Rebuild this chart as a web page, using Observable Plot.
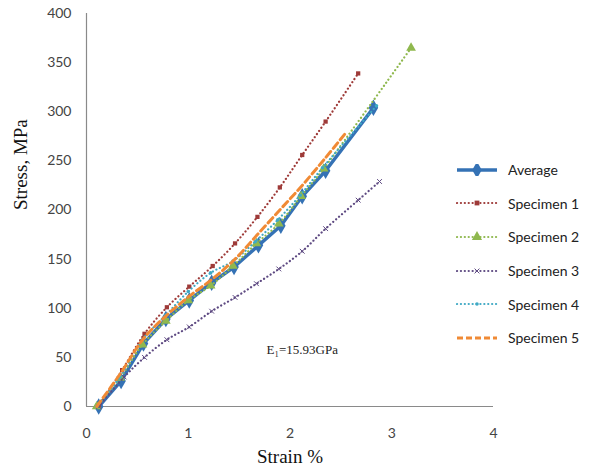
<!DOCTYPE html>
<html>
<head>
<meta charset="utf-8">
<script src="https://cdn.jsdelivr.net/npm/d3@7"></script>
<script src="https://cdn.jsdelivr.net/npm/@observablehq/plot@0.6"></script>
<style>
  body { margin: 0; background: #fff; }
  #wrap { position: relative; width: 593px; height: 472px; }
  #legend { position: absolute; left: 456px; top: 153px; font-family: Lato, "Open Sans", sans-serif; font-size: 14px; color: #222; }
  .row { display: flex; align-items: center; height: 33.6px; }
  .row svg { margin-right: 10px; }
</style>
</head>
<body>
<div id="wrap"><div id="legend"></div></div>
<script>
const seriesNames = ["Average", "Specimen 1", "Specimen 2", "Specimen 3", "Specimen 4", "Specimen 5"];
const colors = ["#3572B5", "#9E3A38", "#8FB84E", "#5E4A82", "#3FA9C4", "#F08A35"];

const avgStrain = [0.12, 0.34, 0.56, 0.78, 1.01, 1.23, 1.45, 1.69, 1.91, 2.12, 2.35, 2.82];
const avgStress = [0, 26, 64, 89, 108, 126, 142, 164, 184, 214, 240, 304];

const s1Strain = [0.12, 0.35, 0.57, 0.79, 1.01, 1.24, 1.46, 1.68, 1.90, 2.12, 2.35, 2.67];
const s1Stress = [0, 37, 74, 101, 122, 143, 166, 193, 223, 256, 290, 339];

const s2Strain = [0.10, 0.33, 0.55, 0.78, 1.00, 1.22, 1.44, 1.67, 1.89, 2.11, 2.33, 3.19];
const s2Stress = [0, 29, 63, 87, 108, 123, 143, 166, 186, 214, 242, 365];

const s3Strain = [0.12, 0.37, 0.57, 0.79, 1.01, 1.23, 1.46, 1.67, 1.89, 2.12, 2.35, 2.67, 2.88];
const s3Stress = [0, 30, 50, 68, 81, 97, 111, 125, 140, 158, 181, 210, 229];

const s4Strain = [0.10, 0.33, 0.55, 0.78, 1.00, 1.22, 1.44, 1.66, 1.88, 2.10, 2.32, 2.85];
const s4Stress = [0, 30, 68, 93, 117, 136, 148, 168, 190, 215, 243, 306];

const s5Strain = [0.10, 0.33, 0.56, 0.79, 1.02, 1.24, 1.46, 1.68, 1.90, 2.12, 2.34, 2.56];
const s5Stress = [0, 33, 69, 93, 113, 130, 150, 175, 200, 225, 252, 280];

const xTicks = [0, 1, 2, 3, 4];
const yTicks = [0, 50, 100, 150, 200, 250, 300, 350, 400];
const annotation = { x: 2.12, y: 58 };

const mk = (xs, ys) => xs.map((x, i) => ({ x, y: ys[i] }));
const avg = mk(avgStrain, avgStress);
const s1 = mk(s1Strain, s1Stress);
const s2 = mk(s2Strain, s2Stress);
const s3 = mk(s3Strain, s3Stress);
const s4 = mk(s4Strain, s4Stress);
const s5 = mk(s5Strain, s5Stress);

const dotted = { strokeWidth: 2.2, strokeDasharray: "0.1,3.8", strokeLinecap: "round", curve: "catmull-rom" };

const plot = Plot.plot({
  width: 593,
  height: 472,
  marginLeft: 86,
  marginRight: 100,
  marginTop: 13,
  marginBottom: 66,
  style: { fontFamily: "Lato, 'Open Sans', sans-serif", fontSize: "14px", color: "#444", background: "#fff" },
  x: { domain: [0, 4], ticks: xTicks, tickSize: 0, tickPadding: 22, label: null },
  y: { domain: [0, 400], ticks: yTicks, tickSize: 0, tickPadding: 15, label: null },
  marks: [
    Plot.ruleY([0], { stroke: "#8a8a8a", strokeWidth: 1.2 }),
    Plot.ruleX([0], { stroke: "#8a8a8a", strokeWidth: 1.2 }),
    Plot.line(avg, { x: "x", y: "y", stroke: colors[0], strokeWidth: 3.5 }),
    Plot.dot(avg, { x: "x", y: "y", symbol: "diamond", r: 5, fill: colors[0] }),
    Plot.line(s1, { x: "x", y: "y", stroke: colors[1], ...dotted }),
    Plot.dot(s1, { x: "x", y: "y", symbol: "square", r: 2.4, fill: colors[1] }),
    Plot.line(s2, { x: "x", y: "y", stroke: colors[2], ...dotted }),
    Plot.dot(s2, { x: "x", y: "y", symbol: "triangle", r: 3.6, fill: colors[2] }),
    Plot.line(s3, { x: "x", y: "y", stroke: colors[3], ...dotted }),
    Plot.dot(s3, { x: "x", y: "y", symbol: "times", r: 2.3, stroke: colors[3], strokeWidth: 1 }),
    Plot.line(s4, { x: "x", y: "y", stroke: colors[4], ...dotted }),
    Plot.dot(s4, { x: "x", y: "y", symbol: "circle", r: 1.8, fill: colors[4] }),
    Plot.line(s5, { x: "x", y: "y", stroke: colors[5], strokeWidth: 3, strokeDasharray: "7,4", curve: "catmull-rom" }),
    Plot.axisX({ ticks: xTicks, tickFormat: d3.format("d"), tickSize: 0, tickPadding: 22, fontSize: 14, fill: "#444", label: null }),
    Plot.axisY({ ticks: yTicks, tickFormat: d3.format("d"), tickSize: 0, tickPadding: 15, fontSize: 14, fill: "#444", label: null }),
    Plot.text(["Strain %"], { frameAnchor: "bottom", dy: 56, fontFamily: "'Liberation Serif', 'Times New Roman', serif", fontSize: 19, fill: "#111" }),
    Plot.text(["Stress, MPa"], { frameAnchor: "left", dx: -66, rotate: -90, fontFamily: "'Liberation Serif', 'Times New Roman', serif", fontSize: 19, fill: "#111" }),
    Plot.text([annotation], { x: "x", y: "y", text: () => "E\u2081=15.93GPa", fontFamily: "'Liberation Serif', 'Times New Roman', serif", fontSize: 13, fill: "#222" })
  ]
});
document.getElementById("wrap").prepend(plot);

// legend
const symbols = ["diamond", "square", "triangle", "times", "circle", null];
const leg = document.getElementById("legend");
seriesNames.forEach((name, i) => {
  const row = document.createElement("div");
  row.className = "row";
  const ns = "http://www.w3.org/2000/svg";
  const svg = document.createElementNS(ns, "svg");
  svg.setAttribute("width", 42); svg.setAttribute("height", 12);
  const line = document.createElementNS(ns, "line");
  line.setAttribute("x1", 1); line.setAttribute("x2", 41); line.setAttribute("y1", 6); line.setAttribute("y2", 6);
  line.setAttribute("stroke", colors[i]);
  if (i === 0) line.setAttribute("stroke-width", 3.5);
  else if (i === 5) { line.setAttribute("stroke-width", 3); line.setAttribute("stroke-dasharray", "6,3"); }
  else { line.setAttribute("stroke-width", 2.2); line.setAttribute("stroke-dasharray", "0.1,3.8"); line.setAttribute("stroke-linecap", "round"); }
  svg.appendChild(line);
  if (symbols[i]) {
    const p = document.createElementNS(ns, "path");
    const size = { diamond: 80, square: 23, triangle: 45, times: 17, circle: 10 }[symbols[i]];
    const sym = { diamond: d3.symbolDiamond, square: d3.symbolSquare, triangle: d3.symbolTriangle, times: d3.symbolTimes, circle: d3.symbolCircle }[symbols[i]];
    p.setAttribute("d", d3.symbol(sym, size)());
    p.setAttribute("transform", "translate(21,6)");
    if (symbols[i] === "times") { p.setAttribute("stroke", colors[i]); p.setAttribute("fill", "none"); }
    else p.setAttribute("fill", colors[i]);
    svg.appendChild(p);
  }
  row.appendChild(svg);
  const t = document.createElement("span");
  t.textContent = name;
  row.appendChild(t);
  leg.appendChild(row);
});
</script>
</body>
</html>
